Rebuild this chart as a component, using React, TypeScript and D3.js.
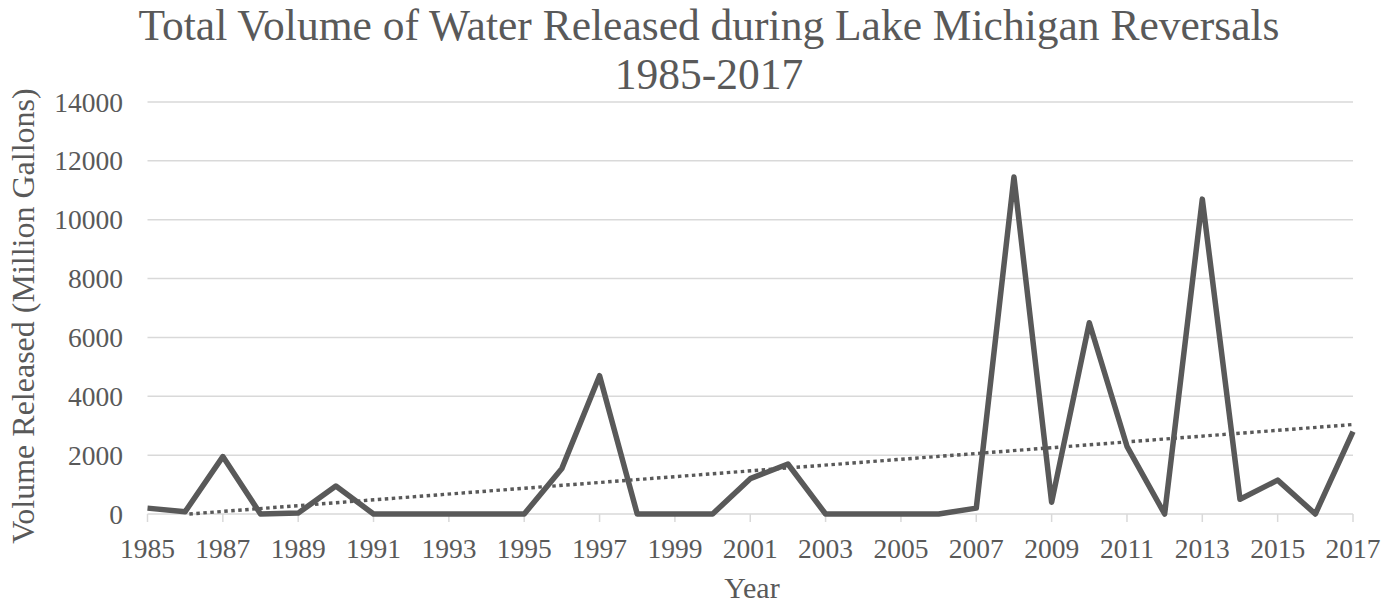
import React from "react";
import * as d3 from "d3";

// Annual volume released to Lake Michigan during reversals (million gallons)
const years: number[] = [
  1985, 1986, 1987, 1988, 1989, 1990, 1991, 1992, 1993, 1994, 1995,
  1996, 1997, 1998, 1999, 2000, 2001, 2002, 2003, 2004, 2005, 2006,
  2007, 2008, 2009, 2010, 2011, 2012, 2013, 2014, 2015, 2016, 2017,
];
const volumes: number[] = [
  200, 80, 1950, 0, 30, 950, 0, 0, 0, 0, 0,
  1550, 4700, 0, 0, 0, 1200, 1700, 0, 0, 0, 0,
  200, 11450, 400, 6500, 2300, 0, 10700, 500, 1150, 0, 2800,
];
const yTicks: number[] = [0, 2000, 4000, 6000, 8000, 10000, 12000, 14000];
const xTickYears: number[] = years.filter((y) => (y - 1985) % 2 === 0);

const titleLines = [
  "Total Volume of Water Released during Lake Michigan Reversals",
  "1985-2017",
];

const W = 1396;
const H = 606;
const margin = { left: 147.5, right: 43, top: 102, bottom: 92 };
const TEXT = "#595959";
const FONT = "'Liberation Serif', 'Times New Roman', serif";

export default function App() {
  const x = d3
    .scaleLinear()
    .domain([years[0], years[years.length - 1]])
    .range([margin.left, W - margin.right]);
  const y = d3.scaleLinear().domain([0, 14000]).range([H - margin.bottom, margin.top]);

  const pts: [number, number][] = years.map((yr, i) => [yr, volumes[i]]);

  const line = d3
    .line<[number, number]>()
    .x((d) => x(d[0]))
    .y((d) => y(d[1]));

  // Least-squares linear trend, clipped where it drops below the axis
  const mx = d3.mean(years) as number;
  const my = d3.mean(volumes) as number;
  const sxy = d3.sum(years, (yr, i) => (yr - mx) * (volumes[i] - my));
  const sxx = d3.sum(years, (yr) => (yr - mx) * (yr - mx));
  const slope = sxy / sxx;
  const intercept = my - slope * mx;
  const x0 = Math.max(years[0], -intercept / slope);
  const x1 = years[years.length - 1];
  const trend: [number, number][] = [
    [x0, intercept + slope * x0],
    [x1, intercept + slope * x1],
  ];

  const plotLeft = margin.left;
  const plotRight = W - margin.right;
  const baseY = y(0);

  return (
    <svg
      width={W}
      height={H}
      style={{ position: "absolute", left: 0, top: 0, background: "#fff" }}
      fontFamily={FONT}
    >
      <rect width={W} height={H} fill="#fff" />
      {/* title */}
      <text x={709} y={40} textAnchor="middle" fontSize={43.5} fill={TEXT}>
        {titleLines[0]}
      </text>
      <text x={709} y={89} textAnchor="middle" fontSize={43.5} fill={TEXT}>
        {titleLines[1]}
      </text>

      {/* gridlines */}
      {yTicks.map((t) => (
        <line
          key={t}
          x1={plotLeft}
          x2={plotRight}
          y1={y(t)}
          y2={y(t)}
          stroke="#d9d9d9"
          strokeWidth={1.5}
        />
      ))}
      {/* x tick marks */}
      {xTickYears.map((yr) => (
        <line
          key={yr}
          x1={x(yr)}
          x2={x(yr)}
          y1={baseY}
          y2={baseY + 8}
          stroke="#d9d9d9"
          strokeWidth={1.5}
        />
      ))}

      {/* y tick labels */}
      {yTicks.map((t) => (
        <text
          key={t}
          x={123}
          y={y(t) + 9.5}
          textAnchor="end"
          fontSize={27.5}
          fill={TEXT}
        >
          {t}
        </text>
      ))}
      {/* x tick labels */}
      {xTickYears.map((yr) => (
        <text
          key={yr}
          x={x(yr)}
          y={558}
          textAnchor="middle"
          fontSize={27.5}
          fill={TEXT}
        >
          {yr}
        </text>
      ))}

      {/* axis titles */}
      <text
        transform={`translate(34, 316) rotate(-90)`}
        textAnchor="middle"
        fontSize={32}
        fill={TEXT}
      >
        Volume Released (Million Gallons)
      </text>
      <text x={752} y={598} textAnchor="middle" fontSize={30} fill={TEXT}>
        Year
      </text>

      {/* trend line */}
      <path
        d={line(trend) || ""}
        fill="none"
        stroke={TEXT}
        strokeWidth={3.4}
        strokeDasharray="3.5 3.5"
      />

      {/* data line */}
      <path
        d={line(pts) || ""}
        fill="none"
        stroke={TEXT}
        strokeWidth={5.5}
        strokeLinejoin="round"
        strokeLinecap="butt"
      />
    </svg>
  );
}
